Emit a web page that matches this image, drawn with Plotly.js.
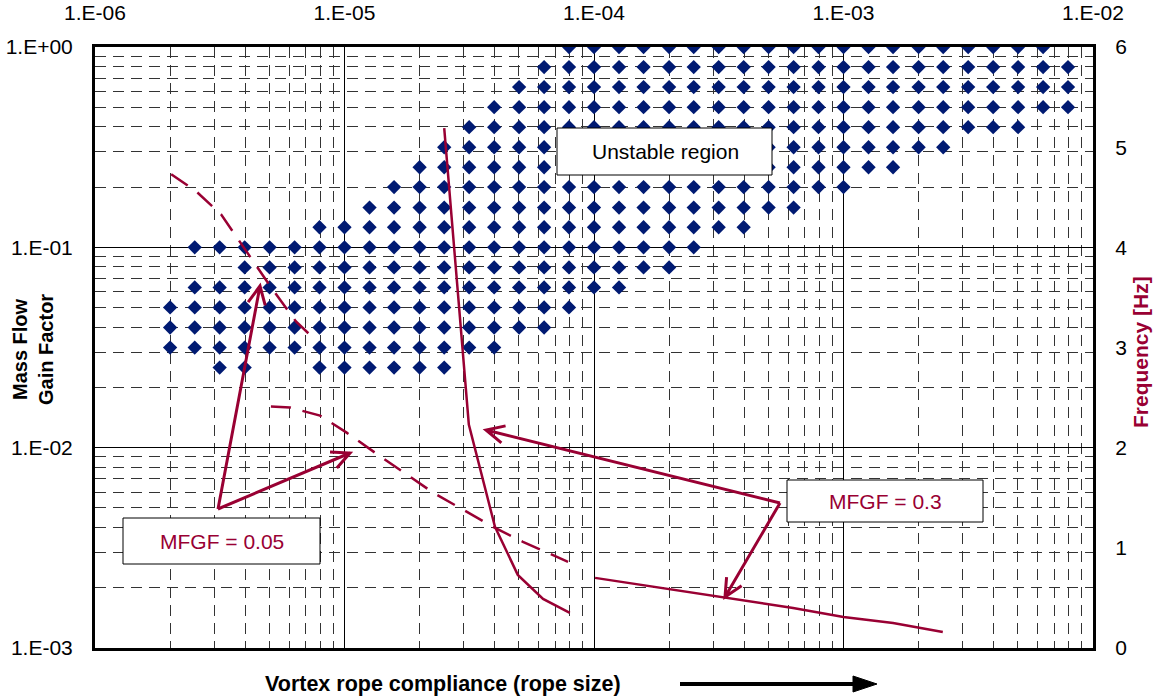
<!DOCTYPE html>
<html><head><meta charset="utf-8">
<script src="https://cdn.plot.ly/plotly-3.0.1.min.js"></script>
<style>html,body{margin:0;padding:0;background:#fff}#chart{width:1156px;height:699px}</style>
</head><body><div id="chart"></div>
<script>
// ---- axis tick labels ----
const xTickVals = [1e-6, 1e-5, 1e-4, 1e-3, 1e-2];
const xTickText = ['1.E-06', '1.E-05', '1.E-04', '1.E-03', '1.E-02'];
const yTickVals = [1e-3, 1e-2, 1e-1, 1];
const yTickText = ['1.E-03', '1.E-02', '1.E-01', '1.E+00'];
const fTickVals = [0, 1, 2, 3, 4, 5, 6];

// ---- unstable-region map: grid columns (compliance) and rows (MFGF) ----
const mapColumns = [2.00e-6, 2.51e-6, 3.16e-6, 3.98e-6, 5.01e-6, 6.31e-6, 7.94e-6,
  1.00e-5, 1.26e-5, 1.58e-5, 2.00e-5, 2.51e-5, 3.16e-5, 3.98e-5, 5.01e-5, 6.31e-5, 7.94e-5,
  1.00e-4, 1.26e-4, 1.58e-4, 2.00e-4, 2.51e-4, 3.16e-4, 3.98e-4, 5.01e-4, 6.31e-4, 7.94e-4,
  1.00e-3, 1.26e-3, 1.58e-3, 2.00e-3, 2.51e-3, 3.16e-3, 3.98e-3, 5.01e-3, 6.31e-3, 7.94e-3];
const mapRows = [1.0, 0.794, 0.631, 0.501, 0.398, 0.316, 0.251, 0.200, 0.158, 0.126,
  0.100, 0.0794, 0.0631, 0.0501, 0.0398, 0.0316, 0.0251];
// unstable column-index ranges for each row (inclusive)
const unstableRanges = [
  [[16, 35]], [[15, 36]], [[14, 36]], [[13, 36]], [[12, 34]], [[11, 31]], [[10, 29]],
  [[9, 27]], [[8, 25]], [[6, 23]], [[1, 21]], [[3, 20]], [[1, 18]], [[0, 16]],
  [[0, 15]], [[0, 13]], [[2, 3], [6, 11]]
];

// ---- frequency curves (right axis, Hz) ----
const mfgf005AX = [2.02e-6, 2.54e-6, 3.20e-6, 4.03e-6, 5.08e-6, 6.39e-6, 7.76e-6];
const mfgf005AF = [4.73, 4.56, 4.33, 3.97, 3.60, 3.26, 3.06];
const mfgf005BX = [5.07e-6, 6.05e-6, 7.98e-6, 1.02e-5, 1.36e-5, 1.78e-5, 2.27e-5, 2.99e-5, 3.94e-5, 5.19e-5, 6.85e-5, 7.87e-5];
const mfgf005BF = [2.41, 2.40, 2.32, 2.15, 1.93, 1.73, 1.55, 1.38, 1.21, 1.06, 0.93, 0.86];
const mfgf03AX = [2.51e-5, 3.15e-5, 4.01e-5, 4.95e-5, 6.25e-5, 8.0e-5];
const mfgf03AF = [5.19, 2.23, 1.21, 0.73, 0.49, 0.35];
const mfgf03BX = [1.01e-4, 2.52e-4, 6.28e-4, 1.00e-3, 1.58e-3, 2.50e-3];
const mfgf03BF = [0.70, 0.55, 0.40, 0.31, 0.25, 0.16];

const CRIMSON = '#990033';
const NAVY = '#001a72';
const FONT = 'Liberation Sans, Arial, sans-serif';

// build the map points
const mapX = [], mapY = [];
unstableRanges.forEach((ranges, r) => {
  ranges.forEach(([a, b]) => {
    for (let c = a; c <= b; c++) { mapX.push(mapColumns[c]); mapY.push(mapRows[r]); }
  });
});

// minor grid positions
const minorX = [], minorY = [];
for (let d = -6; d <= -3; d++) for (let m = 2; m <= 9; m++) minorX.push(m * Math.pow(10, d));
for (let d = -3; d <= -1; d++) for (let m = 2; m <= 9; m++) minorY.push(m * Math.pow(10, d));

const traces = [
  {x: mapX, y: mapY, type: 'scatter', mode: 'markers', yaxis: 'y',
   marker: {symbol: 'diamond', size: 11, color: NAVY, line: {width: 0}}, hoverinfo: 'skip'},
  {x: mfgf005AX, y: mfgf005AF, yaxis: 'y2', type: 'scatter', mode: 'lines',
   line: {color: CRIMSON, width: 2.5, dash: '20px,12px'}},
  {x: mfgf005BX, y: mfgf005BF, yaxis: 'y2', type: 'scatter', mode: 'lines',
   line: {color: CRIMSON, width: 2.5, dash: '20px,12px'}},
  {x: mfgf03AX, y: mfgf03AF, yaxis: 'y2', type: 'scatter', mode: 'lines',
   line: {color: CRIMSON, width: 2.5}},
  {x: mfgf03BX, y: mfgf03BF, yaxis: 'y2', type: 'scatter', mode: 'lines',
   line: {color: CRIMSON, width: 2.5}}
];

// ---- annotation geometry helpers (pixel -> paper) ----
const L = 95, T = 47, W = 998, H = 601;
const px = X => (X - L) / W;
const py = Y => (T + H - Y) / H;
function arrowPath(tx, ty, hx, hy, len, ang) {
  const dx = hx - tx, dy = hy - ty, n = Math.hypot(dx, dy);
  const ux = dx / n, uy = dy / n;
  const w = s => {
    const c = Math.cos(s * ang), sn = Math.sin(s * ang);
    const rx = ux * c - uy * sn, ry = ux * sn + uy * c;
    return [hx - len * rx, hy - len * ry];
  };
  const a = w(1), b = w(-1);
  return `M${px(tx)},${py(ty)} L${px(hx)},${py(hy)} M${px(a[0])},${py(a[1])} L${px(hx)},${py(hy)} L${px(b[0])},${py(b[1])}`;
}
function rect(x0, y0, x1, y1) {
  return {type: 'rect', xref: 'paper', yref: 'paper', x0: px(x0), x1: px(x1), y0: py(y1), y1: py(y0),
    fillcolor: '#fff', line: {color: '#000', width: 1}, layer: 'above'};
}
function arrow(tx, ty, hx, hy) {
  return {type: 'path', xref: 'paper', yref: 'paper', path: arrowPath(tx, ty, hx, hy, 20, 0.45),
    line: {color: CRIMSON, width: 3}, layer: 'above'};
}
function label(text, X, Y, size, color, angle) {
  return {text: text, x: px(X), y: py(Y), xref: 'paper', yref: 'paper', showarrow: false,
    xanchor: 'center', yanchor: 'middle', textangle: angle || 0,
    font: {family: FONT, size: size, color: color}};
}

const shapes = [
  rect(557, 128, 772, 175),
  rect(123, 518, 320, 564),
  rect(787, 480, 983, 522),
  arrow(218, 509, 260, 286),
  arrow(218, 509, 350, 453),
  arrow(780, 503, 486, 430),
  arrow(780, 503, 725, 597),
  {type: 'line', xref: 'paper', yref: 'paper', x0: px(680), x1: px(858), y0: py(684), y1: py(684),
   line: {color: '#000', width: 4}},
  {type: 'path', xref: 'paper', yref: 'paper',
   path: `M${px(877)},${py(684)} L${px(853)},${py(676)} L${px(853)},${py(692)} Z`,
   fillcolor: '#000', line: {color: '#000', width: 1}}
];

const annotations = [
  label('Unstable region', 665, 152, 21, '#000'),
  label('MFGF = 0.05', 222, 541, 21, CRIMSON),
  label('MFGF = 0.3', 885, 501, 21, CRIMSON),
  label('<b>Vortex rope compliance (rope size)</b>', 443, 684, 21.5, '#000'),
  label('<b>Mass Flow<br>Gain Factor</b>', 33, 350, 20, '#000', -90),
  label('<b>Frequency [Hz]</b>', 1140, 352, 21, CRIMSON, -90)
];

const layout = {
  width: 1156, height: 699,
  margin: {l: 95, r: 63, t: 47, b: 51, pad: 0},
  paper_bgcolor: '#fff', plot_bgcolor: '#fff',
  showlegend: false,
  font: {family: FONT, size: 20, color: '#000'},
  xaxis: {type: 'log', range: [-6, -2], side: 'top', tickmode: 'array', tickvals: xTickVals, ticktext: xTickText,
    showgrid: true, gridcolor: '#000', gridwidth: 1, showline: true, linecolor: '#000', linewidth: 3, mirror: true,
    ticks: 'outside', ticklen: 16, tickcolor: 'rgba(0,0,0,0)', zeroline: false, fixedrange: true,
    tickfont: {family: FONT, size: 21, color: '#000'},
    minor: {tickmode: 'array', tickvals: minorX, showgrid: true, gridcolor: '#333', gridwidth: 1, griddash: '11px,7px', ticks: ''}},
  yaxis: {type: 'log', range: [-3, 0], tickmode: 'array', tickvals: yTickVals, ticktext: yTickText,
    showgrid: true, gridcolor: '#000', gridwidth: 1, showline: true, linecolor: '#000', linewidth: 3, mirror: true,
    ticks: 'outside', ticklen: 15, tickcolor: 'rgba(0,0,0,0)', zeroline: false, fixedrange: true,
    tickfont: {family: FONT, size: 21, color: '#000'},
    minor: {tickmode: 'array', tickvals: minorY, showgrid: true, gridcolor: '#333', gridwidth: 1, griddash: '11px,7px', ticks: ''}},
  yaxis2: {overlaying: 'y', side: 'right', range: [0, 6], tickmode: 'array', tickvals: fTickVals,
    showgrid: false, zeroline: false, showline: false, ticks: 'outside', ticklen: 17, tickcolor: 'rgba(0,0,0,0)',
    fixedrange: true, tickfont: {family: FONT, size: 21, color: '#000'}},
  shapes: shapes,
  annotations: annotations
};

Plotly.newPlot('chart', traces, layout, {displayModeBar: false, staticPlot: true});
</script>
</body></html>
